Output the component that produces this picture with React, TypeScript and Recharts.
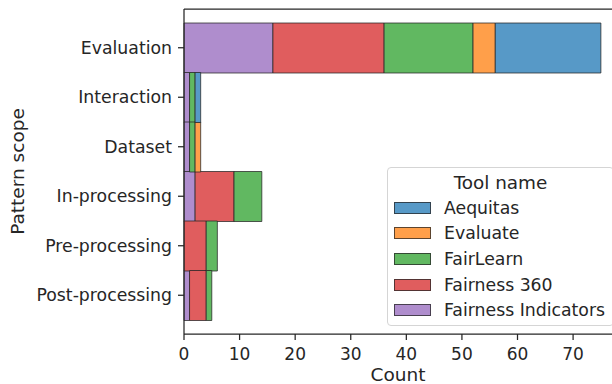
import React from "react";
import { BarChart, Bar, XAxis, YAxis, Legend } from "recharts";

// Pattern scope categories (top to bottom)
const scopes = ["Evaluation", "Interaction", "Dataset", "In-processing", "Pre-processing", "Post-processing"];

// Counts per tool, stacked left to right in this order
const fairnessIndicators = [16, 1, 1, 2, 0, 1];
const fairness360 = [20, 0, 0, 7, 4, 3];
const fairLearn = [16, 1, 1, 5, 2, 1];
const evaluate = [4, 0, 1, 0, 0, 0];
const aequitas = [19, 1, 0, 0, 0, 0];

const xTicks = [0, 10, 20, 30, 40, 50, 60, 70];

const INK = "#262626";
const FONT = "'DejaVu Sans', sans-serif";

// stack order (left -> right)
const stackSeries = [
  { key: "fairnessIndicators", name: "Fairness Indicators", color: "#af8dcd", values: fairnessIndicators },
  { key: "fairness360", name: "Fairness 360", color: "#e05d5e", values: fairness360 },
  { key: "fairLearn", name: "FairLearn", color: "#61b861", values: fairLearn },
  { key: "evaluate", name: "Evaluate", color: "#ff9f4a", values: evaluate },
  { key: "aequitas", name: "Aequitas", color: "#5799c7", values: aequitas },
];

// legend order
const legendOrder = ["Aequitas", "Evaluate", "FairLearn", "Fairness 360", "Fairness Indicators"];

const data = scopes.map((scope, i) => {
  const row: Record<string, string | number> = { scope };
  stackSeries.forEach((s) => (row[s.key] = s.values[i]));
  return row;
});

function ToolLegend() {
  return (
    <div
      style={{
        boxSizing: "border-box",
        width: 227,
        height: 159,
        border: "1px solid #d5d5d5",
        borderRadius: 4,
        background: "rgba(255,255,255,0.8)",
        fontFamily: FONT,
        color: INK,
        paddingLeft: 6,
      }}
    >
      <div style={{ height: 27, lineHeight: "29px", fontSize: 18.4, textAlign: "center", paddingRight: 6 }}>
        Tool name
      </div>
      {legendOrder.map((name) => {
        const s = stackSeries.find((x) => x.name === name)!;
        return (
          <div key={name} style={{ display: "flex", alignItems: "center", height: 25.6 }}>
            <div
              style={{
                boxSizing: "border-box",
                width: 37,
                height: 12,
                background: s.color,
                border: "1px solid rgba(38,38,38,0.75)",
              }}
            />
            <span style={{ marginLeft: 13, fontSize: 17.3, whiteSpace: "nowrap" }}>{name}</span>
          </div>
        );
      })}
    </div>
  );
}

export default function App() {
  return (
    <div style={{ position: "absolute", left: 0, top: 0, width: 612, height: 384, overflow: "hidden", background: "#fff" }}>
      <BarChart
        width={612}
        height={384}
        data={data}
        layout="vertical"
        barCategoryGap={0}
        margin={{ top: 8, right: 0, bottom: 0, left: 0 }}
      >
        <XAxis
          type="number"
          domain={[0, 77]}
          ticks={xTicks}
          height={50}
          tickSize={6}
          tickMargin={8}
          stroke={INK}
          strokeWidth={1.25}
          tick={{ fill: INK, fontSize: 17, fontFamily: FONT }}
          label={{ value: "Count", position: "insideBottom", offset: 3, fill: INK, fontSize: 18.5, fontFamily: FONT }}
        />
        {/* top spine */}
        <XAxis
          xAxisId="top"
          orientation="top"
          type="number"
          domain={[0, 77]}
          height={1}
          tick={false}
          tickLine={false}
          stroke={INK}
          strokeWidth={1.25}
        />
        <YAxis
          type="category"
          dataKey="scope"
          width={184}
          padding={{ top: 14, bottom: 14 }}
          tickSize={6}
          tickMargin={6}
          stroke={INK}
          strokeWidth={1.25}
          tick={{ fill: INK, fontSize: 17.3, fontFamily: FONT }}
          label={{
            value: "Pattern scope",
            angle: -90,
            position: "insideLeft",
            offset: 17,
            fill: INK,
            fontSize: 18.5,
            fontFamily: FONT,
            style: { textAnchor: "middle" },
          }}
        />
        <Legend
          layout="vertical"
          align="center"
          verticalAlign="middle"
          content={() => <ToolLegend />}
          wrapperStyle={{ left: 387, top: 167, width: 227, height: 159 }}
        />
        {stackSeries.map((s) => (
          <Bar
            key={s.key}
            dataKey={s.key}
            name={s.name}
            stackId="tools"
            fill={s.color}
            stroke={INK}
            strokeOpacity={0.75}
            strokeWidth={1}
            isAnimationActive={false}
          />
        ))}
      </BarChart>
    </div>
  );
}
